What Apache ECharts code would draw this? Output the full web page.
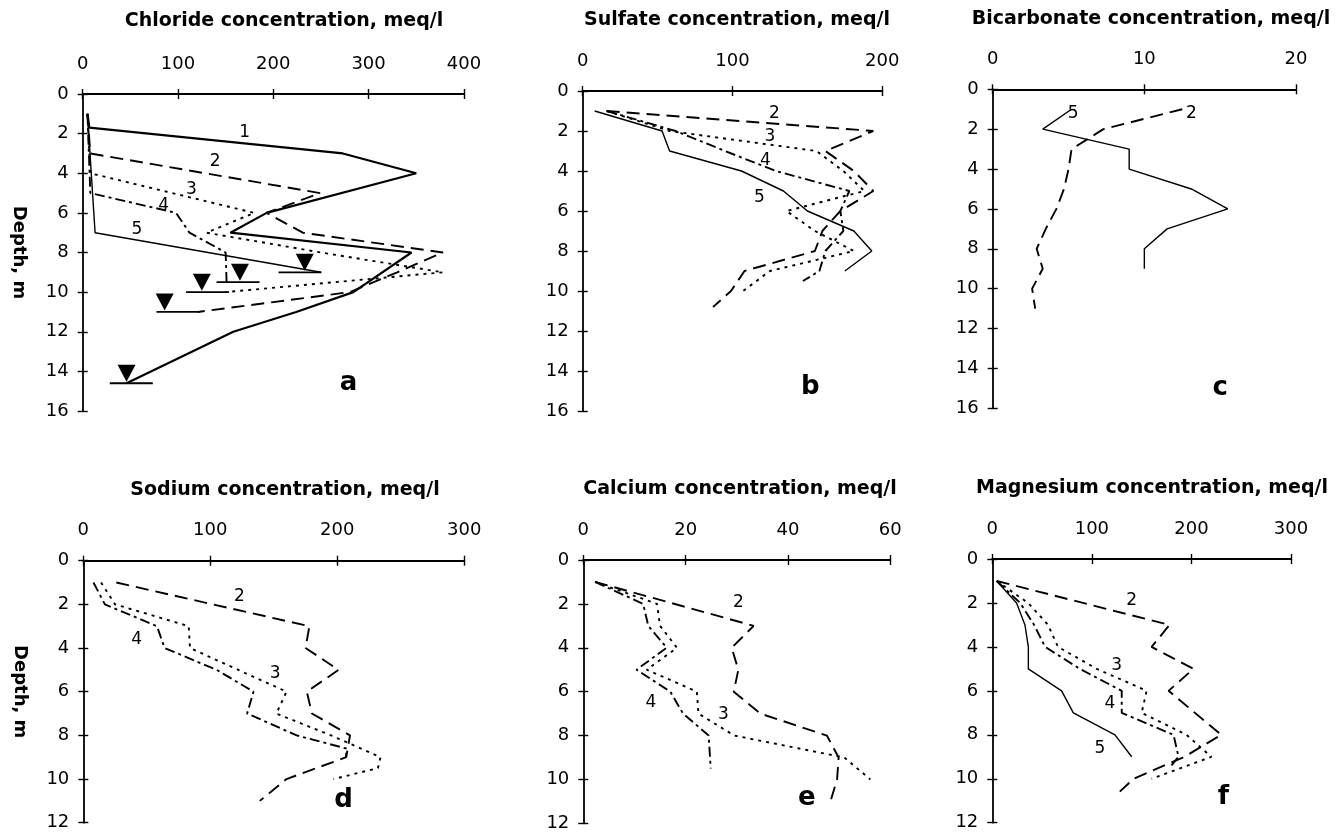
<!DOCTYPE html>
<html><head><meta charset="utf-8">
<script src="https://cdn.jsdelivr.net/npm/echarts@6/dist/echarts.min.js"></script>
<style>html,body{margin:0;padding:0;background:#fff}#c{width:1339px;height:833px}</style>
</head><body><div id="c"></div>
<script>
// ---------- Panel a: chloride ----------
const depthA1 = [1, 1.7, 3, 4, 6, 7, 8, 10, 11, 12, 14.6];
const clA1    = [5, 7, 273, 350, 193, 155, 345, 284, 224, 158, 46];
const depthA2 = [1, 3, 5, 6, 7, 8, 9, 10, 11];
const clA2    = [5, 8, 249, 193, 231, 378, 330, 280, 121];
const depthA3 = [1, 4, 6, 7, 8, 9, 10];
const clA3    = [5, 8, 180, 130, 250, 378, 150];
const depthA4 = [1, 5, 6, 7, 8, 9.5];
const clA4    = [5, 8, 98, 112, 150, 151];
const depthA5 = [1, 7, 9];
const clA5    = [5, 13, 250];
// water table markers (panel a)
const wtDepth = [9, 9.5, 10, 11, 14.6];
const wtTriX  = [233, 165, 125, 86, 46];
const wtBarX  = [228, 163, 131, 100, 51];

// ---------- Panel b: sulfate ----------
const depthB2 = [1, 2, 3, 4, 5, 6, 7, 8, 9, 10, 10.8];
const so4B2   = [16, 194, 162, 181, 194, 172, 160, 155, 108, 99, 87];
const depthB3 = [1, 2, 3, 4, 5, 6, 7, 8, 9, 10];
const so4B3   = [16, 58, 156, 174, 188, 136, 155, 181, 125, 107];
const depthB4 = [1, 2, 3, 4, 5, 6, 7, 8, 9, 9.5];
const so4B4   = [16, 62, 95, 129, 178, 172, 174, 162, 158, 147];
const depthB5 = [1, 2, 3, 4, 5, 6, 7, 8, 9];
const so4B5   = [8, 53, 58, 106, 134, 150, 181, 193, 175];

// ---------- Panel c: bicarbonate ----------
const depthC2 = [1, 2, 3, 4, 5, 6, 7, 8, 9, 10, 11];
const hco3C2  = [12.5, 7.3, 5.2, 5.0, 4.7, 4.2, 3.5, 2.9, 3.3, 2.6, 2.8];
const depthC5 = [1, 2, 3, 4, 5, 6, 7, 8, 9];
const hco3C5  = [5.2, 3.3, 9.0, 9.0, 13.1, 15.5, 11.5, 10.0, 10.0];

// ---------- Panel d: sodium ----------
const depthD2 = [1, 3, 4, 5, 6, 7, 8, 9, 10, 11];
const naD2    = [26, 178, 175, 201, 176, 180, 210, 207, 160, 139];
const depthD3 = [1, 2, 3, 4, 6, 7, 8, 9, 9.5, 10];
const naD3    = [14, 25, 83, 84, 160, 152, 195, 234, 232, 197];
const depthD4 = [1, 2, 3, 4, 5, 6, 7, 8, 8.6, 9];
const naD4    = [8, 17, 58, 64, 105, 134, 129, 168, 207, 207];

// ---------- Panel e: calcium ----------
const depthE2 = [1, 3, 4, 5, 6, 7, 8, 9, 10, 11];
const caE2    = [2.3, 33.3, 29.0, 30.3, 29.4, 34.6, 47.6, 49.9, 49.6, 48.3];
const depthE3 = [1, 2, 3, 4, 5, 6, 7, 8, 9, 10];
const caE3    = [2.3, 14.4, 15.0, 18.3, 12.4, 22.2, 22.5, 29.5, 51, 56.1];
const depthE4 = [1, 2, 3, 4, 5, 6, 7, 8, 9.5];
const caE4    = [2.3, 11.7, 12.7, 16.3, 10.4, 17, 19.5, 24.5, 24.9];

// ---------- Panel f: magnesium ----------
const depthF2 = [1, 3, 4, 5, 6, 8, 9, 10, 10.8];
const mgF2    = [4.4, 178, 160, 202, 177, 230, 193, 142, 123];
const depthF3 = [1, 2, 3, 4, 5, 6, 7, 8, 9, 10];
const mgF3    = [4.4, 36, 56, 66, 105, 155, 150, 195, 220, 160];
const depthF4 = [1, 2, 3, 4, 5, 6, 7, 8, 9, 9.5];
const mgF4    = [4.4, 28, 42, 53, 88, 130, 130, 182, 187, 178];
const depthF5 = [1, 2, 3, 4, 5, 6, 7, 8, 9];
const mgF5    = [4.4, 24.4, 32.8, 36.2, 36.2, 69.6, 81.4, 123.2, 140];

// ---------- axes / titles ----------
const titles = ['Chloride concentration, meq/l', 'Sulfate concentration, meq/l', 'Bicarbonate concentration, meq/l',
                'Sodium concentration, meq/l', 'Calcium concentration, meq/l', 'Magnesium concentration, meq/l'];
const xMax  = [400, 200, 20, 300, 60, 300];
const xStep = [100, 100, 10, 100, 20, 100];
const yMax  = [16, 16, 16, 12, 12, 12];
const yStep = 2;
const yName = ['Depth, m', '', '', 'Depth, m', '', ''];

// curve labels (number tags) per panel
const tagText  = [['1','2','3','4','5'], ['2','3','4','5'], ['5','2'], ['2','4','3'], ['2','4','3'], ['2','3','4','5']];
const tagX     = [[170,139,114,85,57], [128,125,122,118], [5.3,13.1], [123,42,151], [30.3,13.2,27.4], [140,125,118,108]];
const tagDepth = [[1.97,3.43,4.82,5.63,6.84], [1.11,2.27,3.48,5.34], [1.24,1.24], [1.65,3.63,5.19], [1.95,6.5,7.04], [1.91,4.83,6.57,8.62]];
const letterText  = ['a','b','c','d','e','f'];
const letterX     = [279, 152, 15.0, 205, 43.7, 232];
const letterDepth = [14.6, 14.8, 14.97, 10.96, 10.87, 10.82];

// ---------- layout (pixels) ----------
const gridBox = [
  {left: 82.7, top: 94,   width: 381.2, height: 317},
  {left: 582.7, top: 91,  width: 299.6, height: 320},
  {left: 992.7, top: 89.3, width: 303.3, height: 319},
  {left: 83.3, top: 560.7, width: 381,  height: 262},
  {left: 583.3, top: 560, width: 307,   height: 263.3},
  {left: 992.3, top: 559, width: 298.7, height: 263.7}
];
const titleCX = [284, 737, 1151, 285, 740, 1152];
const titleTop = [12, 11, 10, 481, 480, 479];

const FONT = 'DejaVu Sans';
const lineStyles = {
  1: {width: 2.2, type: 'solid'},
  2: {width: 1.9, type: [13, 7]},
  3: {width: 1.9, type: [3, 5]},
  4: {width: 1.9, type: [10, 4, 3, 4]},
  5: {width: 1.4, type: 'solid'}
};

const pairs = (xs, ys) => xs.map((v, i) => [v, ys[i]]);
const curves = [
  [[1, clA1, depthA1], [2, clA2, depthA2], [3, clA3, depthA3], [4, clA4, depthA4], [5, clA5, depthA5]],
  [[2, so4B2, depthB2], [3, so4B3, depthB3], [4, so4B4, depthB4], [5, so4B5, depthB5]],
  [[2, hco3C2, depthC2], [5, hco3C5, depthC5]],
  [[2, naD2, depthD2], [3, naD3, depthD3], [4, naD4, depthD4]],
  [[2, caE2, depthE2], [3, caE3, depthE3], [4, caE4, depthE4]],
  [[2, mgF2, depthF2], [3, mgF3, depthF3], [4, mgF4, depthF4], [5, mgF5, depthF5]]
];

const grid = [], xAxis = [], yAxis = [], series = [];
const axisLineStyle = {color: '#000', width: 1.8};
const tickStyle = {color: '#000', width: 1.4};
for (let p = 0; p < 6; p++) {
  grid.push(Object.assign({outerBoundsMode: 'none', containLabel: false}, gridBox[p]));
  xAxis.push({type: 'value', gridIndex: p, position: 'top', min: 0, max: xMax[p], interval: xStep[p],
    axisLine: {show: true, onZero: false, lineStyle: axisLineStyle},
    axisTick: {show: true, length: 5, lineStyle: tickStyle},
    axisLabel: {color: '#000', fontFamily: FONT, fontSize: 18, margin: 21},
    splitLine: {show: false}});
  xAxis.push({type: 'value', gridIndex: p, position: 'top', min: 0, max: xMax[p], interval: xStep[p],
    axisLine: {show: false, onZero: false}, axisTick: {show: true, inside: true, length: 5, lineStyle: tickStyle},
    axisLabel: {show: false}, splitLine: {show: false}});
  yAxis.push({type: 'value', gridIndex: p, position: 'left', inverse: true, min: 0, max: yMax[p], interval: yStep,
    axisLine: {show: true, onZero: false, lineStyle: axisLineStyle},
    axisTick: {show: true, length: 5, lineStyle: tickStyle},
    axisLabel: {color: '#000', fontFamily: FONT, fontSize: 18, margin: 14},
    splitLine: {show: false},
    name: yName[p], nameLocation: 'middle', nameGap: 55, nameRotate: -90,
    nameTextStyle: {color: '#000', fontFamily: FONT, fontWeight: 'bold', fontSize: 18}});
  yAxis.push({type: 'value', gridIndex: p, position: 'left', inverse: true, min: 0, max: yMax[p], interval: yStep,
    axisLine: {show: false, onZero: false}, axisTick: {show: true, inside: true, length: 5, lineStyle: tickStyle},
    axisLabel: {show: false}, splitLine: {show: false}});

  curves[p].forEach(([id, xs, ys]) => {
    series.push({type: 'line', xAxisIndex: 2 * p, yAxisIndex: 2 * p, data: pairs(xs, ys),
      symbol: 'none', silent: true, z: 3,
      lineStyle: {color: '#000', opacity: 1, width: lineStyles[id].width, type: lineStyles[id].type}});
  });

  series.push({type: 'scatter', xAxisIndex: 2 * p, yAxisIndex: 2 * p, silent: true, z: 5,
    data: tagX[p].map((v, i) => ({value: [v, tagDepth[p][i]], label: {formatter: tagText[p][i]}})),
    symbolSize: 1, itemStyle: {color: 'rgba(0,0,0,0)', opacity: 1},
    label: {show: true, position: 'inside', color: '#000', opacity: 1, fontFamily: FONT, fontSize: 17}});
  series.push({type: 'scatter', xAxisIndex: 2 * p, yAxisIndex: 2 * p, silent: true, z: 5,
    data: [{value: [letterX[p], letterDepth[p]], label: {formatter: letterText[p]}}],
    symbolSize: 1, itemStyle: {color: 'rgba(0,0,0,0)', opacity: 1},
    label: {show: true, position: 'inside', color: '#000', opacity: 1, fontFamily: FONT, fontWeight: 'bold', fontSize: 26}});
}
// water-table markers in panel a
series.push({type: 'scatter', xAxisIndex: 0, yAxisIndex: 0, silent: true, z: 6,
  data: pairs(wtTriX, wtDepth), symbol: 'path://M0,0 L18,0 L9,18 Z', symbolSize: [18, 17], symbolOffset: [0, -10],
  itemStyle: {color: '#000', opacity: 1}});
series.push({type: 'scatter', xAxisIndex: 0, yAxisIndex: 0, silent: true, z: 6,
  data: pairs(wtBarX, wtDepth), symbol: 'rect', symbolSize: [43, 1.8],
  itemStyle: {color: '#000', opacity: 1}});

const chart = echarts.init(document.getElementById('c'), null, {renderer: 'canvas'});
chart.setOption({
  backgroundColor: '#fff',
  animation: false,
  title: titles.map((t, i) => ({text: t, left: titleCX[i], top: titleTop[i], textAlign: 'center', padding: 0,
    textStyle: {color: '#000', fontFamily: FONT, fontWeight: 'bold', fontSize: 19}})),
  grid, xAxis, yAxis, series
});
</script></body></html>
